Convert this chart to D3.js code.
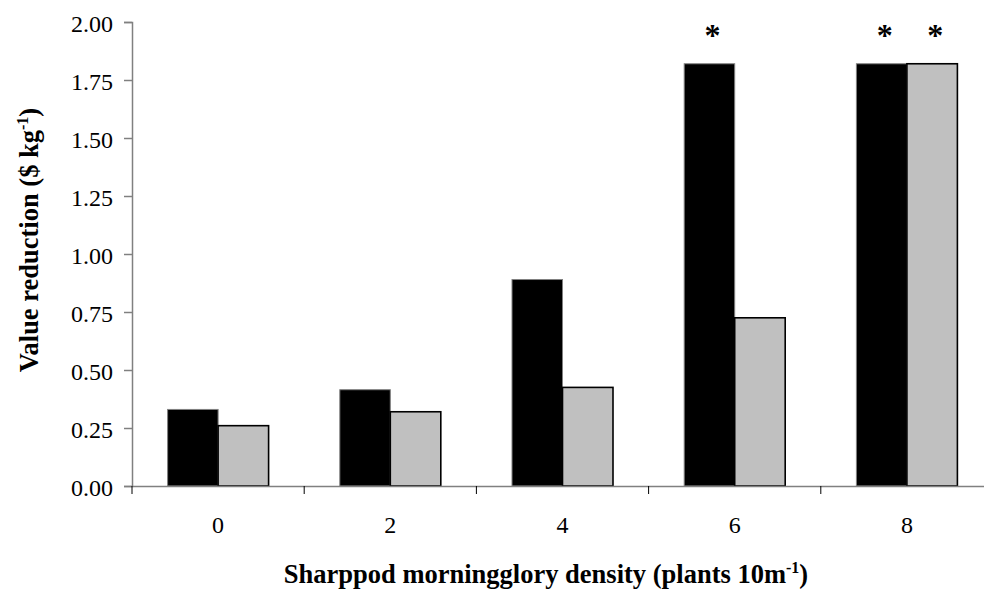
<!DOCTYPE html>
<html>
<head>
<meta charset="utf-8">
<script src="https://cdn.jsdelivr.net/npm/d3@7"></script>
<style>
  html, body { margin: 0; padding: 0; background: #fff; }
  svg { display: block; }
  svg text { font-family: 'Liberation Serif', 'Times New Roman', Times, serif; fill: #000; }
</style>
</head>
<body>
<svg id="chart" width="984" height="593"></svg>
<script>
// ---- data ----
const categories = ["0", "2", "4", "6", "8"];
const seriesNames = ["A", "B"];
const seriesA = [0.33, 0.415, 0.89, 1.82, 1.82];
const seriesB = [0.26, 0.32, 0.425, 0.725, 1.82];
const significantA = [false, false, false, true, true];
const significantB = [false, false, false, false, true];
const yTicks = [0, 0.25, 0.5, 0.75, 1.0, 1.25, 1.5, 1.75, 2.0];

const svg = d3.select("#chart");
const plotLeft = 132, plotTop = 22, plotBottom = 486, stepW = 172.2;
const plotRight = plotLeft + stepW * categories.length;

const x0 = d3.scaleBand().domain(categories).range([plotLeft, plotRight]).padding(0);
const x1 = d3.scaleBand().domain(seriesNames).range([0, x0.bandwidth()]).paddingInner(0).paddingOuter(0.705);
const y = d3.scaleLinear().domain([0, 2]).range([plotBottom, plotTop]);

const colors = { A: "#000000", B: "#c0c0c0" };
const strokes = { A: "#808080", B: "#000000" };

const rows = categories.map((c, i) => ({ cat: c, vals: [
  { s: "A", v: seriesA[i], sig: significantA[i] },
  { s: "B", v: seriesB[i], sig: significantB[i] }
]}));

const g = svg.append("g");
const groups = g.selectAll("g.grp").data(rows).enter().append("g")
  .attr("transform", d => `translate(${x0(d.cat)},0)`);

groups.selectAll("rect").data(d => d.vals).enter().append("rect")
  .attr("x", d => x1(d.s))
  .attr("width", x1.bandwidth())
  .attr("y", d => y(d.v))
  .attr("height", d => y(0) - y(d.v))
  .attr("fill", d => colors[d.s])
  .attr("stroke", d => strokes[d.s])
  .attr("stroke-width", d => d.s === "B" ? 1.6 : 1);

groups.selectAll("text.sig").data(d => d.vals.filter(v => v.sig)).enter().append("text")
  .attr("class", "sig")
  .attr("x", d => x1(d.s) + x1.bandwidth() / 2 + 3)
  .attr("y", 46)
  .attr("text-anchor", "middle")
  .style("font-size", "32px")
  .style("font-weight", "bold")
  .text("*");

// y axis
const yAxis = d3.axisLeft(y).tickValues(yTicks).tickFormat(d3.format(".2f")).tickSize(8).tickPadding(11);
const ya = svg.append("g").attr("transform", `translate(${plotLeft},0)`).call(yAxis);
ya.attr("font-family", null);
ya.select(".domain").attr("stroke", "#808080").attr("stroke-width", 1.5);
ya.selectAll(".tick line").attr("stroke", "#808080").attr("stroke-width", 1.5);
ya.selectAll(".tick text").style("font-size", "24px").attr("fill", "#000").attr("dy", "0.38em");

// x axis
const xAxis = d3.axisBottom(x0).tickSize(0).tickPadding(30);
const xa = svg.append("g").attr("transform", `translate(0,${plotBottom})`).call(xAxis);
xa.attr("font-family", null);
xa.select(".domain").attr("stroke", "#808080").attr("stroke-width", 1.5);
xa.selectAll(".tick text").style("font-size", "24px").attr("fill", "#000");
// category separator ticks
xa.selectAll("line.sep").data(categories).enter().append("line")
  .attr("class", "sep")
  .attr("x1", d => x0(d)).attr("x2", d => x0(d))
  .attr("y1", 0).attr("y2", 8)
  .attr("stroke", "#000").attr("stroke-width", 1);

// axis titles
const xt = svg.append("text")
  .attr("x", 546).attr("y", 583)
  .attr("text-anchor", "middle")
  .style("font-size", "26.5px").style("font-weight", "bold");
xt.append("tspan").text("Sharppod morningglory density (plants 10m");
xt.append("tspan").style("font-size", "16px").attr("dy", -10).text("-1");
xt.append("tspan").attr("dy", 10).text(")");

const yt = svg.append("text")
  .attr("transform", "translate(38,240) rotate(-90)")
  .attr("text-anchor", "middle")
  .style("font-size", "26.5px").style("font-weight", "bold");
yt.append("tspan").text("Value reduction ($ kg");
yt.append("tspan").style("font-size", "16px").attr("dy", -10).text("-1");
yt.append("tspan").attr("dy", 10).text(")");
</script>
</body>
</html>
